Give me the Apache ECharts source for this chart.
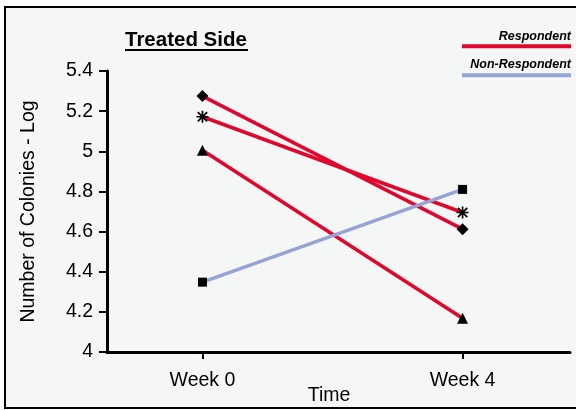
<!DOCTYPE html>
<html>
<head>
<meta charset="utf-8">
<script src="https://cdn.jsdelivr.net/npm/echarts@6/dist/echarts.min.js"></script>
<style>
html,body{margin:0;padding:0;background:#ffffff;}
#chart{width:576px;height:410px;}
</style>
</head>
<body>
<div id="chart"></div>
<script>
var categories = ['Week 0', 'Week 4'];
var diamondSeries = [5.275, 4.612];
var starSeries = [5.172, 4.695];
var triangleSeries = [5.005, 4.168];
var squareSeries = [4.348, 4.810];
var yTicks = [4, 4.2, 4.4, 4.6, 4.8, 5, 5.2, 5.4];

var RED = '#e1062c';
var BLUE = '#97a3d4';
var FONT = 'Liberation Sans, Arial, Helvetica, sans-serif';
var asterisk = 'path://M0 8.6 L20 8.6 L20 11.4 L0 11.4 Z M8.6 0 L11.4 0 L11.4 20 L8.6 20 Z M1.2 3.2 L3.2 1.2 L18.8 16.8 L16.8 18.8 Z M16.8 1.2 L18.8 3.2 L3.2 18.8 L1.2 16.8 Z';

function pts(arr){ return arr.map(function(v,i){ return [i, v]; }); }

function mkSeries(name, data, color, symbol, size){
  return {
    name: name, type: 'line', data: pts(data),
    symbol: symbol, symbolSize: size, showSymbol: true,
    lineStyle: {color: color, width: 3.5},
    itemStyle: {color: '#000000', borderWidth: 0},
    emphasis: {disabled: true}, animation: false, z: 3
  };
}

var chart = echarts.init(document.getElementById('chart'), null, {renderer: 'canvas'});
chart.setOption({
  backgroundColor: 'transparent',
  animation: false,
  grid: {left: 107, right: 6, top: 71, bottom: 58, containLabel: false, outerBoundsMode: 'none'},
  xAxis: {
    type: 'value', min: -0.367, max: 1.413,
    name: 'Time', nameLocation: 'middle', nameGap: 34, nameMoveOverlap: false,
    nameTextStyle: {color: '#000', fontFamily: FONT, fontSize: 19.5, padding: [0, 19, 0, 0]},
    axisLine: {onZero: false, lineStyle: {color: '#000', width: 3}},
    axisTick: {show: true, customValues: [0, 1], length: 7, lineStyle: {color: '#000', width: 2}},
    axisLabel: {customValues: [0, 1], margin: 19, color: '#000', fontFamily: FONT, fontSize: 19.5,
      formatter: function(v){ return categories[Math.round(v)]; }},
    splitLine: {show: false}
  },
  yAxis: {
    type: 'value', min: 4, max: 5.4, interval: 0.2,
    name: 'Number of Colonies - Log', nameLocation: 'middle', nameGap: 68, nameRotate: 90, nameMoveOverlap: false,
    nameTextStyle: {color: '#000', fontFamily: FONT, fontSize: 19.5},
    axisLine: {show: true, onZero: false, lineStyle: {color: '#000', width: 3}},
    axisTick: {show: true, length: 8, lineStyle: {color: '#000', width: 2}},
    axisLabel: {customValues: yTicks, margin: 14, color: '#000', fontFamily: FONT, fontSize: 19.5,
      formatter: function(v){ return String(parseFloat(v.toFixed(1))); }},
    splitLine: {show: false}
  },
  series: [
    mkSeries('Respondent 1', diamondSeries, RED, 'diamond', 12),
    mkSeries('Respondent 2', starSeries, RED, asterisk, 12),
    mkSeries('Respondent 3', triangleSeries, RED, 'triangle', 11),
    mkSeries('Non-Respondent', squareSeries, BLUE, 'rect', 9)
  ],
  graphic: [
    {type: 'rect', z: -10, silent: true, shape: {x: 5, y: 7, width: 600, height: 401},
      style: {fill: '#f5f7f7', stroke: '#000', lineWidth: 2}},
    {type: 'text', left: 125, top: 30, z: 10,
      style: {text: 'Treated Side', fill: '#000', font: 'bold 20.5px ' + FONT}},
    {type: 'line', z: 10, shape: {x1: 125, y1: 50, x2: 248, y2: 50}, style: {stroke: '#000', lineWidth: 2}},
    {type: 'text', z: 10, x: 571, y: 43,
      style: {text: 'Respondent', fill: '#000', font: 'italic bold 12.5px ' + FONT, align: 'right', verticalAlign: 'bottom'}},
    {type: 'line', z: 10, shape: {x1: 462, y1: 46.3, x2: 571, y2: 46.3}, style: {stroke: RED, lineWidth: 4}},
    {type: 'text', z: 10, x: 571, y: 71,
      style: {text: 'Non-Respondent', fill: '#000', font: 'italic bold 12.5px ' + FONT, align: 'right', verticalAlign: 'bottom'}},
    {type: 'line', z: 10, shape: {x1: 462, y1: 75.3, x2: 571, y2: 75.3}, style: {stroke: BLUE, lineWidth: 4}}
  ]
});
</script>
</body>
</html>
